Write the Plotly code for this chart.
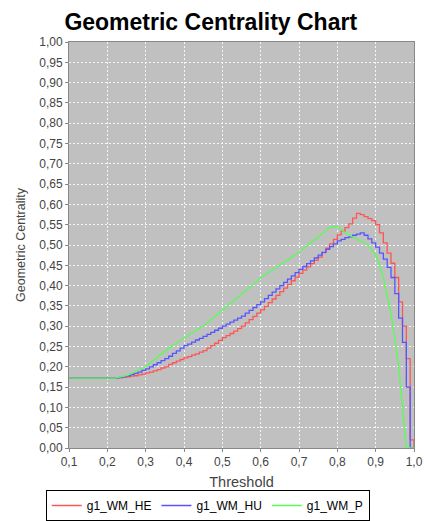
import plotly.graph_objects as go

thresholds = [round(0.10 + 0.01 * i, 2) for i in range(91)]

g1_WM_HE = [0.172] * 11 + [
    0.172, 0.173, 0.173, 0.174, 0.175, 0.177, 0.178, 0.180, 0.182, 0.185,
    0.187, 0.190, 0.193, 0.197, 0.200, 0.206, 0.210, 0.214, 0.218, 0.222,
    0.225, 0.229, 0.232, 0.236, 0.240, 0.246, 0.252, 0.258, 0.265, 0.272,
    0.277, 0.282, 0.288, 0.294, 0.300, 0.308, 0.316, 0.324, 0.332, 0.340,
    0.349, 0.358, 0.367, 0.376, 0.385, 0.394, 0.403, 0.412, 0.421, 0.430,
    0.438, 0.446, 0.454, 0.462, 0.470, 0.481, 0.492, 0.503, 0.514, 0.525,
    0.534, 0.543, 0.552, 0.566, 0.578, 0.575, 0.570, 0.565, 0.560, 0.550,
    0.530, 0.505, 0.480, 0.455, 0.420, 0.360, 0.300, 0.220, 0.020, 0.000,
]

g1_WM_HU = [0.172] * 13 + [
    0.174, 0.176, 0.178, 0.181, 0.184, 0.187, 0.191, 0.195,
    0.200, 0.205, 0.210, 0.215, 0.220, 0.226, 0.233, 0.239, 0.246, 0.252,
    0.256, 0.261, 0.266, 0.270, 0.275, 0.280, 0.285, 0.290, 0.295, 0.300,
    0.305, 0.310, 0.315, 0.320, 0.325, 0.332, 0.339, 0.346, 0.353, 0.360,
    0.368, 0.376, 0.384, 0.392, 0.400, 0.408, 0.416, 0.424, 0.432, 0.440,
    0.447, 0.454, 0.461, 0.468, 0.475, 0.482, 0.489, 0.496, 0.503, 0.510,
    0.514, 0.518, 0.520, 0.524, 0.527, 0.530, 0.524, 0.515, 0.505, 0.495,
    0.480, 0.465, 0.445, 0.420, 0.380, 0.320, 0.260, 0.150, 0.000, 0.000,
]

g1_WM_P = [0.172] * 13 + [
    0.174, 0.176, 0.178, 0.182, 0.186, 0.190, 0.195, 0.200,
    0.208, 0.216, 0.224, 0.232, 0.240, 0.246, 0.252, 0.258, 0.264, 0.270,
    0.276, 0.282, 0.288, 0.294, 0.300, 0.308, 0.316, 0.324, 0.332, 0.340,
    0.348, 0.356, 0.364, 0.372, 0.380, 0.388, 0.396, 0.404, 0.412, 0.420,
    0.426, 0.432, 0.438, 0.444, 0.450, 0.457, 0.463, 0.470, 0.476, 0.483,
    0.490, 0.498, 0.505, 0.513, 0.520, 0.528, 0.536, 0.543, 0.545, 0.545,
    0.538, 0.530, 0.525, 0.520, 0.515, 0.510, 0.505, 0.500, 0.488, 0.475,
    0.450, 0.420, 0.375, 0.330, 0.270, 0.200, 0.100, 0.000, 0.000, 0.000,
]

series = [
    ("g1_WM_HE", g1_WM_HE, "#FF5555", "hv"),
    ("g1_WM_HU", g1_WM_HU, "#5555FF", "hv"),
    ("g1_WM_P", g1_WM_P, "#55FF55", "linear"),
]

fig = go.Figure()
for name, vals, color, shape in series:
    fig.add_trace(go.Scatter(
        x=thresholds, y=vals, name=name, mode="lines",
        line=dict(color=color, width=1.3, shape=shape),
    ))

FONT = "Liberation Sans, Arial, sans-serif"
axis_font = dict(family=FONT, size=12, color="#444444")

fig.update_layout(
    width=424, height=521,
    margin=dict(l=69, r=10, t=42, b=73, autoexpand=False),
    paper_bgcolor="white",
    plot_bgcolor="#C0C0C0",
    separators=", ",
    title=dict(
        text="<b>Geometric Centrality Chart</b>",
        x=0.497, xref="container", xanchor="center",
        y=0.957, yref="container", yanchor="middle",
        font=dict(family=FONT, size=23, color="black"),
    ),
    showlegend=True,
    legend=dict(
        orientation="h",
        x=0.49, xref="container", xanchor="center",
        y=0.0, yref="container", yanchor="bottom",
        bordercolor="black", borderwidth=1, bgcolor="white",
        font=dict(family=FONT, size=12, color="black"),
        itemwidth=30, tracegroupgap=0,
    ),
    xaxis=dict(
        range=[0.1, 1.0], dtick=0.1, tick0=0.1, tickformat=".1f",
        showgrid=True, gridcolor="rgba(255,255,255,0.85)", griddash="2px,2px", gridwidth=1,
        showline=True, linecolor="#888888", linewidth=1, mirror=True,
        ticks="outside", ticklen=3, tickcolor="#888888",
        tickfont=axis_font, zeroline=False, automargin=False,
        title=dict(text="Threshold", font=dict(family=FONT, size=14.5, color="#444444"), standoff=13),
    ),
    yaxis=dict(
        range=[0, 1.0], dtick=0.05, tick0=0, tickformat=".2f",
        showgrid=True, gridcolor="rgba(255,255,255,0.85)", griddash="2px,2px", gridwidth=1,
        showline=True, linecolor="#888888", linewidth=1, mirror=True,
        ticks="outside", ticklen=3, tickcolor="#888888",
        tickfont=axis_font, zeroline=False, automargin=False,
        title=dict(text="Geometric Centrality", font=dict(family=FONT, size=12.5, color="#444444"), standoff=10),
    ),
)

fig.write_html("out.html")
